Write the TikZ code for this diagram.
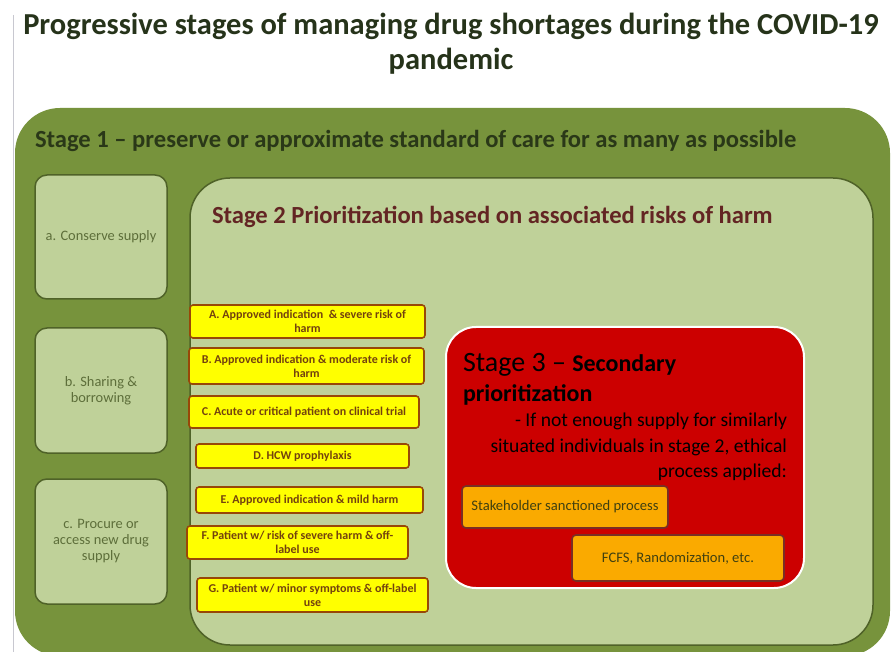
\documentclass[tikz,border=0pt]{standalone}
\usepackage{fontspec}
\setmainfont{Carlito}
\definecolor{olive}{HTML}{77933C}
\definecolor{lightol}{HTML}{BFD199}
\definecolor{darkol}{HTML}{4F6228}
\definecolor{titlecol}{HTML}{26331A}
\definecolor{stonecol}{HTML}{2A3818}
\definecolor{stwocol}{HTML}{632523}
\definecolor{smalltxt}{HTML}{5D6E3A}
\definecolor{yelfill}{HTML}{FFFF00}
\definecolor{yelborder}{HTML}{984807}
\definecolor{yeltxt}{HTML}{73420E}
\definecolor{redfill}{HTML}{CC0000}
\definecolor{orfill}{HTML}{FAAA00}
\definecolor{orborder}{HTML}{7A2E24}
\definecolor{ortxt}{HTML}{404010}
\definecolor{grayline}{HTML}{C8C8D0}
\newcommand{\fsz}[2]{\fontsize{#1}{#2}\selectfont}
\tikzset{
  every node/.style={inner sep=0pt, outer sep=0pt},
  sbox/.style={draw=darkol, line width=1.5pt, fill=lightol, rounded corners=12pt, text=smalltxt, align=center, font=\fsz{14.4}{16}},
  ybox/.style={draw=yelborder, line width=1.6pt, fill=yelfill, rounded corners=3pt, text=yeltxt, align=center, font=\bfseries\fsz{12}{14}},
  obox/.style={draw=orborder, line width=1.6pt, fill=orfill, rounded corners=4pt, text=ortxt, align=center, font=\fsz{14.6}{16}},
}
\begin{document}
\begin{tikzpicture}[x=1pt,y=-1pt]
\useasboundingbox (0,0) rectangle (892,652);
\fill[white] (0,0) rectangle (892,652);
\coordinate (lt) at (13,15);
\coordinate (lb) at (13,652);
\draw[grayline, line width=1pt] (lt) -- (lb);
% title
\node[text=titlecol, align=center, font=\bfseries\fsz{30.5}{35}] (title) at (451,44)
  {Progressive stages of managing drug shortages during the COVID-19\\pandemic};
% stage 1
\node[fill=olive, rounded corners=45pt, minimum width=875pt, minimum height=548pt] (s1) at (452.5,382) {};
\node[anchor=west, text=stonecol, font=\bfseries\fsz{24.6}{26}] (s1t) at (35,141)
  {Stage 1 -- preserve or approximate standard of care for as many as possible};
\node[sbox, minimum width=132pt, minimum height=124pt] (a) at (101,237) {a. Conserve supply};
\node[sbox, minimum width=132pt, minimum height=125pt] (b) at (101,390.5) {b. Sharing \&\\borrowing};
\node[sbox, minimum width=132pt, minimum height=125pt] (c) at (101,541.5) {c. Procure or\\access new drug\\supply};
% stage 2
\node[draw=darkol, line width=1.5pt, fill=lightol, rounded corners=40pt, minimum width=683pt, minimum height=467pt] (s2) at (531.5,411.5) {};
\node[anchor=west, text=stwocol, font=\bfseries\fsz{24.6}{26}] (s2t) at (212,217)
  {Stage 2 Prioritization based on associated risks of harm};
\node[ybox, minimum width=235pt, minimum height=33pt] (A) at (307.5,321.5) {A. Approved indication \ \& severe risk of\\harm};
\node[ybox, minimum width=235pt, minimum height=36pt] (B) at (306.5,366) {B. Approved indication \& moderate risk of\\harm};
\node[ybox, minimum width=230pt, minimum height=32pt] (C) at (304,412) {C. Acute or critical patient on clinical trial};
\node[ybox, minimum width=213pt, minimum height=24pt] (D) at (302.5,456) {D. HCW prophylaxis};
\node[ybox, minimum width=227pt, minimum height=26pt] (E) at (309.5,500) {E. Approved indication \& mild harm};
\node[ybox, minimum width=221pt, minimum height=33pt] (F) at (297.5,542.5) {F. Patient w/ risk of severe harm \& off-\\label use};
\node[ybox, minimum width=231pt, minimum height=34pt] (G) at (312.5,595) {G. Patient w/ minor symptoms \& off-label\\use};
% stage 3
\node[draw=white, line width=2pt, fill=redfill, rounded corners=30pt, minimum width=358pt, minimum height=261pt] (s3) at (625,457.5) {};
\node[anchor=base west, text=black] (s3a) at (463,371)
  {\fsz{28}{32}Stage 3 -- \bfseries\fsz{24}{28}Secondary};
\node[anchor=base west, text=black, font=\bfseries\fsz{24}{28}] (s3b) at (463,402) {prioritization};
\node[anchor=north east, text=black, align=right, font=\fsz{19.6}{25.5}] (s3c) at (787,413)
  {- If not enough supply for similarly\\situated individuals in stage 2, ethical\\process applied:};
\node[obox, minimum width=206pt, minimum height=42pt] (o1) at (565,507) {Stakeholder sanctioned process};
\node[obox, minimum width=212pt, minimum height=46pt] (o2) at (678,558) {FCFS, Randomization, etc.};
\end{tikzpicture}
\end{document}
